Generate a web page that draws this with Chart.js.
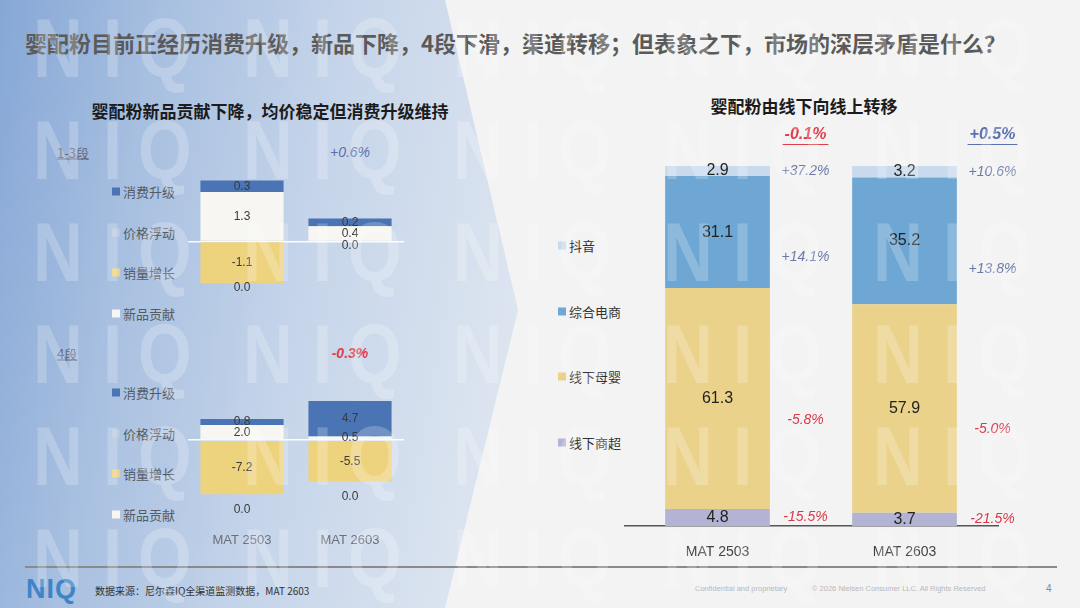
<!DOCTYPE html>
<html>
<head>
<meta charset="utf-8">
<script src="https://cdn.jsdelivr.net/npm/chart.js@4.4.1/dist/chart.umd.min.js"></script>
<style>
  html, body { margin: 0; padding: 0; }
  body { width: 1080px; height: 608px; overflow: hidden; }
  #slide { position: relative; width: 1080px; height: 608px; background: #f3f3f3; overflow: hidden;
    font-family: "Noto Sans CJK SC", "Noto Sans", sans-serif; }
  #leftPanel { position: absolute; left: 0; top: 0; width: 540px; height: 608px;
    background: linear-gradient(100deg, #86a7d6 0%, #a7bfe0 25%, #c6d5ea 55%, #dae3ef 85%, #e2e8f1 100%);
    clip-path: polygon(0 0, 445px 0, 518px 310px, 445px 608px, 0 608px); }
  .abs { position: absolute; white-space: nowrap; }
  .mid { transform: translate(-50%, -50%); }
  .vmid { transform: translateY(-50%); }
  #title { left: 25px; top: 42px; font-size: 22px; font-weight: 700; color: #5a5a5a; }
  .sub { font-size: 17px; font-weight: 700; color: #1c1c1c; }
  .stage { font-size: 13px; color: #667; text-decoration: underline; }
  .legend { font-size: 13px; color: #555b66; }
  .legend i { display: inline-block; width: 8px; height: 8px; margin-right: 3px; vertical-align: 1px; }
  .total { font-family: "Liberation Sans", sans-serif; font-style: italic; font-size: 14px; }
  canvas { position: absolute; }
  #footLine { position: absolute; left: 25px; top: 566px; width: 1032px; height: 1.5px; background: #8a8a8a; }
  #logo { left: 26px; top: 589px; font-family: "Liberation Sans", sans-serif; font-weight: 700; font-size: 27px; color: #3d84c8; letter-spacing: 1px; }
  #source { left: 95px; top: 590px; font-size: 10px; color: #333; }
  .fine { top: 588px; font-family: "Liberation Sans", sans-serif; font-size: 7.5px; color: #b8b8b8; }
  #wm { position: absolute; left: 0; top: 0; width: 1080px; height: 608px; pointer-events: none; }
  #wm span { position: absolute; font-family: "Liberation Sans", sans-serif; font-weight: 700; font-size: 84px;
    line-height: 84px; color: rgba(255,255,255,0.22); transform: scaleX(0.82); transform-origin: left top; }
</style>
</head>
<body>
<div id="slide">
  <div id="leftPanel"></div>
  <div id="title" class="abs vmid">婴配粉目前正经历消费升级，新品下降，4段下滑，渠道转移；但表象之下，市场的深层矛盾是什么？</div>
  <div class="abs mid sub" style="left:270px; top:110px;">婴配粉新品贡献下降，均价稳定但消费升级维持</div>
  <div class="abs mid sub" style="left:804px; top:105px;">婴配粉由线下向线上转移</div>
  <div id="leftLegends"></div>
  <div id="rightLegend"></div>
  <canvas id="stage13"></canvas>
  <canvas id="stage4"></canvas>
  <canvas id="channel"></canvas>
  <div id="footLine"></div>
  <div id="logo" class="abs vmid">NIQ</div>
  <div id="source" class="abs vmid">数据来源：尼尔森IQ全渠道监测数据，MAT 2603</div>
  <div class="abs vmid fine" style="left:695px;">Confidential and proprietary</div>
  <div class="abs vmid fine" style="left:812px;">© 2026 Nielsen Consumer LLC. All Rights Reserved</div>
  <div class="abs vmid" style="left:1046px; top:588px; font-size:10px; color:#888; font-family:'Liberation Sans';">4</div>
  <div id="wm"></div>
</div>
<script>
// 时间段
const periods = ['MAT 2503', 'MAT 2603'];

// 左图：销售额增长拆解（1-3段 / 4段）
const driverNames = ['消费升级', '价格浮动', '销量增长', '新品贡献'];
const driverColors = ['#4a74b4', '#b9cadf', '#eed37f', '#f7f6f2'];
const stageNames = ['1-3段', '4段'];
const stageTotals = [0.6, -0.3];

const stage13Upgrade = [0.3, 0.2];
const stage13Price = [0.0, 0.0];
const stage13Volume = [-1.1, 0.0];
const stage13NewItem = [1.3, 0.4];

const stage4Upgrade = [0.8, 4.7];
const stage4Price = [0.0, 0.0];
const stage4Volume = [-7.2, -5.5];
const stage4NewItem = [2.0, 0.5];

// 右图：渠道份额（%）及增长率
const channelNames = ['抖音', '综合电商', '线下母婴', '线下商超'];
const channelColors = ['#c9daed', '#6ea7d3', '#ebd28b', '#b3b4d4'];
const shareDouyin = [2.9, 3.2];
const shareEcom = [31.1, 35.2];
const shareMaternal = [61.3, 57.9];
const shareSuper = [4.8, 3.7];
const growthDouyin = [37.2, 10.6];
const growthEcom = [14.1, 13.8];
const growthMaternal = [-5.8, -5.0];
const growthSuper = [-15.5, -21.5];
const totalGrowth = [-0.1, 0.5];

const NUM_FONT = '"Liberation Sans", "Noto Sans", sans-serif';
const UP = '#6a7aa8', DOWN = '#d83a4b';

function fmtPct(v) {
  return (v > 0 ? '+' : '') + v.toFixed(1) + '%';
}

// 柱内数值标签
const barLabels = {
  id: 'barLabels',
  afterDatasetsDraw(chart, args, opts) {
    const ctx = chart.ctx;
    ctx.save();
    ctx.font = opts.font;
    ctx.fillStyle = opts.color;
    ctx.textAlign = 'center';
    ctx.textBaseline = 'middle';
    chart.data.datasets.forEach((ds, di) => {
      chart.getDatasetMeta(di).data.forEach((bar, i) => {
        const v = ds.data[i];
        let y;
        if (v === 0) {
          if (!ds.zeroLabel) return;
          // 零值放在负向堆叠底部之下
          const neg = chart.data.datasets.reduce((s, d) => s + Math.min(d.data[i], 0), 0);
          y = chart.scales.y.getPixelForValue(neg) + opts.zeroOffset;
        } else {
          y = (bar.y + bar.base) / 2;
        }
        ctx.fillText(v.toFixed(1), bar.x, y);
      });
    });
    ctx.restore();
  }
};

// 右图：各渠道增长率 + 总增长
const channelNotes = {
  id: 'channelNotes',
  afterDatasetsDraw(chart, args, opts) {
    const ctx = chart.ctx;
    ctx.save();
    ctx.textAlign = 'center';
    ctx.textBaseline = 'middle';
    ctx.font = 'italic 14px ' + NUM_FONT;
    chart.data.datasets.forEach((ds, di) => {
      chart.getDatasetMeta(di).data.forEach((bar, i) => {
        const g = ds.growth[i];
        const top = Math.min(bar.y, bar.base);
        const h = Math.abs(bar.base - bar.y);
        ctx.fillStyle = g >= 0 ? UP : DOWN;
        ctx.fillText(fmtPct(g), bar.x + opts.dx, top + h * ds.noteAt);
      });
    });
    ctx.font = 'italic bold 16px ' + NUM_FONT;
    chart.getDatasetMeta(0).data.forEach((bar, i) => {
      const t = fmtPct(opts.totals[i]);
      const x = bar.x + opts.dx;
      const y = chart.chartArea.top - 31;
      const w = ctx.measureText(t).width;
      ctx.fillStyle = ctx.strokeStyle = opts.totals[i] >= 0 ? '#5b6fae' : '#e03d4c';
      ctx.fillText(t, x, y);
      ctx.lineWidth = 1.2;
      ctx.beginPath();
      ctx.moveTo(x - w / 2 - 2, y + 9.5);
      ctx.lineTo(x + w / 2 + 2, y + 9.5);
      ctx.stroke();
    });
    ctx.restore();
  }
};

function stageDatasets(upgrade, price, volume, newItem) {
  // 正向：新品贡献在下，消费升级在上；负向：销量增长，价格浮动
  return [
    { label: driverNames[3], data: newItem, backgroundColor: driverColors[3] },
    { label: driverNames[0], data: upgrade, backgroundColor: driverColors[0] },
    { label: driverNames[2], data: volume, backgroundColor: driverColors[2] },
    { label: driverNames[1], data: price, backgroundColor: driverColors[1], zeroLabel: true }
  ];
}

function setCanvas(id, left, top, w, h) {
  const c = document.getElementById(id);
  c.width = w; c.height = h;
  c.style.left = left + 'px'; c.style.top = top + 'px';
  c.style.width = w + 'px'; c.style.height = h + 'px';
  return c;
}

function stageChart(canvas, datasets, yMin, yMax, step, zeroOffset, showAxis) {
  return new Chart(canvas, {
    type: 'bar',
    data: { labels: periods, datasets },
    options: {
      responsive: false,
      animation: false,
      layout: { padding: 0 },
      datasets: { bar: { barPercentage: 0.77, categoryPercentage: 1 } },
      plugins: {
        legend: { display: false },
        tooltip: { enabled: false },
        barLabels: { font: '12px ' + NUM_FONT, color: '#3a3a3a', zeroOffset }
      },
      scales: {
        x: {
          stacked: true, display: showAxis,
          grid: { display: false }, border: { display: false },
          ticks: { color: '#6b707a', font: { size: 13, family: NUM_FONT }, padding: 9 }
        },
        y: {
          stacked: true, min: yMin, max: yMax,
          ticks: { display: false, stepSize: step },
          grid: {
            drawTicks: false, lineWidth: 1.5,
            color: c => c.tick.value === 0 ? 'rgba(255,255,255,0.95)' : 'rgba(0,0,0,0)'
          },
          border: { display: false }
        }
      }
    },
    plugins: [barLabels]
  });
}

stageChart(setCanvas('stage13', 188, 173, 216, 133),
  stageDatasets(stage13Upgrade, stage13Price, stage13Volume, stage13NewItem), -1.7, 1.8, 1, 4, false);
stageChart(setCanvas('stage4', 188, 395, 216, 162),
  stageDatasets(stage4Upgrade, stage4Price, stage4Volume, stage4NewItem), -10, 6, 5, 15, true);

new Chart(setCanvas('channel', 624, 115, 416, 456), {
  type: 'bar',
  data: {
    labels: periods,
    datasets: [
      { label: channelNames[3], data: shareSuper, growth: growthSuper, noteAt: 0.5, backgroundColor: channelColors[3] },
      { label: channelNames[2], data: shareMaternal, growth: growthMaternal, noteAt: 0.6, backgroundColor: channelColors[2] },
      { label: channelNames[1], data: shareEcom, growth: growthEcom, noteAt: 0.72, backgroundColor: channelColors[1] },
      { label: channelNames[0], data: shareDouyin, growth: growthDouyin, noteAt: 0.5, backgroundColor: channelColors[0] }
    ]
  },
  options: {
    responsive: false,
    animation: false,
    layout: { padding: { top: 51, right: 42 } },
    datasets: { bar: { barPercentage: 0.56, categoryPercentage: 1 } },
    plugins: {
      legend: { display: false },
      tooltip: { enabled: false },
      barLabels: { font: '16px ' + NUM_FONT, color: '#222', zeroOffset: 0 },
      channelNotes: { dx: 88, totals: totalGrowth }
    },
    scales: {
      x: {
        stacked: true,
        grid: { display: false },
        border: { color: '#555', width: 1.5 },
        ticks: { color: '#444', font: { size: 14, family: NUM_FONT }, padding: 10 }
      },
      y: { stacked: true, display: false, min: 0, max: 100 }
    }
  },
  plugins: [barLabels, channelNotes]
});

// 图例与小标题
const slide = document.getElementById('slide');
function addDiv(html, cls, left, top, style) {
  const d = document.createElement('div');
  d.className = 'abs ' + cls;
  d.innerHTML = html;
  d.style.left = left + 'px';
  d.style.top = top + 'px';
  if (style) d.style.cssText += style;
  slide.insertBefore(d, document.getElementById('wm'));
  return d;
}

[152, 353].forEach((y, s) => {
  addDiv(stageNames[s], 'vmid stage', 57, y);
  const t = stageTotals[s];
  addDiv(fmtPct(t), 'mid total', 350, y,
    t >= 0 ? 'color:#5b6fae;' : 'color:#e03d4c;font-weight:700;');
  driverNames.forEach((name, k) => {
    addDiv('<i style="background:' + driverColors[k] + '"></i>' + name, 'vmid legend', 112, y + 39 + k * 40.5);
  });
});

channelNames.forEach((name, k) => {
  addDiv('<i style="background:' + channelColors[k] + '"></i>' + name, 'vmid legend', 558, 245 + k * 65.7, 'color:#333;');
});

// NIQ 水印
const wm = document.getElementById('wm');
for (let r = 0; r < 6; r++) {
  for (let c = 0; c < 5; c++) {
    [['N', 0], ['I', 70], ['Q', 105]].forEach(([ch, dx]) => {
      const s = document.createElement('span');
      s.textContent = ch;
      s.style.left = (33 + c * 210 + dx) + 'px';
      s.style.top = (17 + r * 102 - 11) + 'px';
      wm.appendChild(s);
    });
  }
}
</script>
</body>
</html>
